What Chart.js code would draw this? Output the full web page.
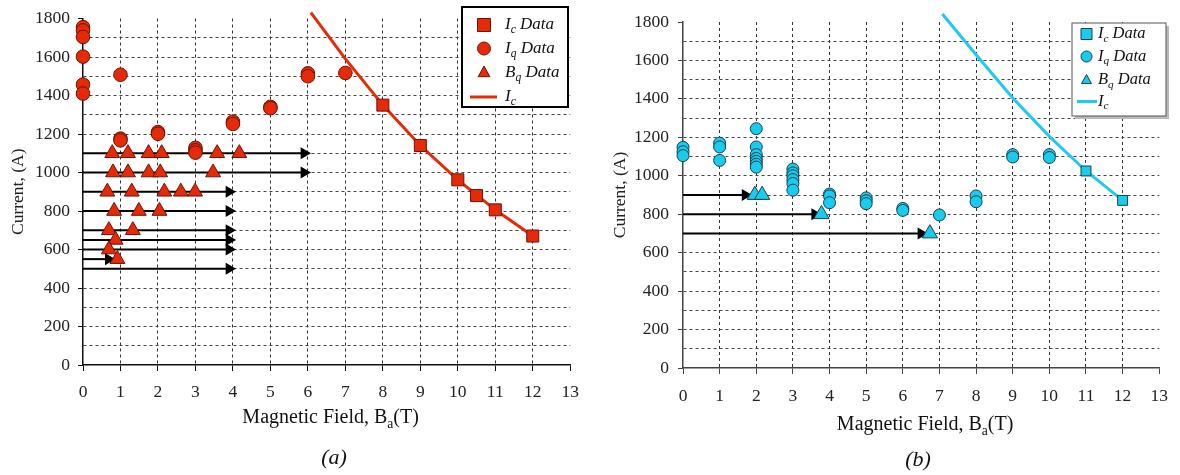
<!DOCTYPE html>
<html>
<head>
<meta charset="utf-8">
<script src="https://cdn.jsdelivr.net/npm/chart.js@4.4.1/dist/chart.umd.min.js"></script>
<style>
  body { margin: 0; background: #fff; }
  #wrap { position: relative; width: 1180px; height: 475px; }
  canvas { position: absolute; top: 0; }
  #chartA { left: 0; }
  #chartB { left: 590px; }
  .caption { position: absolute; font: italic 22px "Liberation Serif", serif; color: #111; width: 60px; text-align: center; }
</style>
</head>
<body>
<div id="wrap">
  <canvas id="chartA" width="590" height="475"></canvas>
  <canvas id="chartB" width="590" height="475"></canvas>
  <div class="caption" style="left:304px; top:444px;">(a)</div>
  <div class="caption" style="left:888px; top:446px;">(b)</div>
</div>
<script>
// ---- panel (a) data ----
const icAx = [8, 9, 10, 10.5, 11, 12];
const icAy = [1350, 1140, 962, 880, 806, 670];
const iqAx = [0, 0, 0, 0, 0, 0, 1, 1, 1, 2, 2, 3, 3, 3, 4, 4, 5, 5, 6, 6, 7];
const iqAy = [1755, 1738, 1704, 1602, 1457, 1410, 1508, 1176, 1167, 1210, 1201, 1128, 1115, 1103, 1264, 1252, 1341, 1334, 1515, 1500, 1517];
const bqAx = [0.78, 1.2, 1.75, 2.1, 3.58, 4.17, 0.8, 1.2, 1.75, 2.06, 3.47, 0.65, 1.3, 2.17, 2.61, 2.99, 0.83, 1.49, 2.04, 0.69, 1.33, 0.87, 0.69, 0.92];
const bqAy = [1100, 1100, 1100, 1100, 1100, 1100, 1000, 1000, 1000, 1000, 1000, 900, 900, 900, 900, 900, 800, 800, 800, 700, 700, 650, 600, 550];
const fitAx = [6.08, 7, 8, 9, 10, 11, 12];
const fitAy = [1830, 1590, 1350, 1140, 962, 806, 670];
const arrowAy = [1100, 1000, 900, 800, 700, 650, 600, 550, 500];
const arrowAend = [5.9, 5.9, 3.9, 3.9, 3.9, 3.9, 3.9, 0.68, 3.9];

// ---- panel (b) data ----
const icBx = [11, 12];
const icBy = [1025, 872];
const iqBx = [0, 0, 0, 1, 1, 1, 2, 2, 2, 2, 2, 2, 2, 3, 3, 3, 3, 3, 3, 4, 4, 4, 5, 5, 5, 6, 6, 7, 8, 8, 9, 9, 10, 10];
const iqBy = [1148, 1125, 1105, 1170, 1150, 1080, 1245, 1150, 1110, 1090, 1075, 1060, 1045, 1035, 1015, 1000, 980, 960, 925, 905, 895, 860, 885, 870, 855, 830, 820, 796, 895, 865, 1110, 1098, 1110, 1095];
const bqBx = [1.96, 2.16, 3.78, 6.74];
const bqBy = [900, 900, 800, 700];
const fitBx = [7.08, 8, 9, 10, 11, 12];
const fitBy = [1842, 1630, 1405, 1205, 1025, 872];
const arrowBy = [900, 800, 700];
const arrowBend = [1.7, 3.6, 6.5];

const xTicks = [0, 1, 2, 3, 4, 5, 6, 7, 8, 9, 10, 11, 12, 13];
const yTicks = [0, 200, 400, 600, 800, 1000, 1200, 1400, 1600, 1800];

const SERIF = '"Liberation Serif", "Times New Roman", serif';
const pts = (xs, ys) => xs.map((x, i) => ({ x: x, y: ys[i] }));

function drawMark(ctx, style, x, y, r, fill, stroke) {
  ctx.save();
  ctx.fillStyle = fill;
  ctx.strokeStyle = stroke;
  ctx.lineWidth = 1;
  ctx.beginPath();
  if (style === 'rect') {
    ctx.rect(x - r, y - r, 2 * r, 2 * r);
  } else if (style === 'circle') {
    ctx.arc(x, y, r, 0, Math.PI * 2);
  } else {
    ctx.moveTo(x, y - r);
    ctx.lineTo(x + r * 0.9, y + r * 0.65);
    ctx.lineTo(x - r * 0.9, y + r * 0.65);
    ctx.closePath();
  }
  ctx.fill();
  ctx.stroke();
  ctx.restore();
}

// text with subscripts, parts = [[text, isSub], ...]
function richText(ctx, parts, x, y, size, italic, center) {
  const fontFor = sub => (italic ? 'italic ' : '') + (sub ? size * 0.68 : size) + 'px ' + SERIF;
  let w = 0;
  parts.forEach(p => { ctx.font = fontFor(p[1]); w += ctx.measureText(p[0]).width; });
  let cx = center ? x - w / 2 : x;
  ctx.textBaseline = 'middle';
  ctx.textAlign = 'left';
  parts.forEach(p => {
    ctx.font = fontFor(p[1]);
    ctx.fillText(p[0], cx, y + (p[1] ? size * 0.3 : 0));
    cx += ctx.measureText(p[0]).width;
  });
}

const decorPlugin = {
  id: 'decor',
  afterDraw(chart, args, opts) {
    const ctx = chart.ctx;
    const area = chart.chartArea;
    ctx.save();
    ctx.fillStyle = '#111';
    richText(ctx, [['Magnetic Field, B', false], ['a', true], ['(T)', false]],
      (area.left + area.right) / 2 + 4, opts.titleY, 20, false, true);

    const lg = opts.legend;
    if (lg.shadow) {
      ctx.fillStyle = '#bbb';
      ctx.fillRect(lg.x + 3, lg.y + 3, lg.w, lg.h);
    }
    ctx.fillStyle = '#fff';
    ctx.fillRect(lg.x, lg.y, lg.w, lg.h);
    ctx.strokeStyle = lg.border;
    ctx.lineWidth = lg.borderWidth;
    ctx.strokeRect(lg.x, lg.y, lg.w, lg.h);
    chart.data.datasets.filter(d => d.legendText).forEach((d, i) => {
      const ry = lg.rows[i];
      if (d.showLine) {
        ctx.strokeStyle = d.borderColor;
        ctx.lineWidth = 3;
        ctx.beginPath();
        ctx.moveTo(lg.lineX1, ry);
        ctx.lineTo(lg.lineX2, ry);
        ctx.stroke();
      } else {
        drawMark(ctx, d.pointStyle, lg.symX, ry, lg.symR, d.backgroundColor, d.borderColor);
      }
      ctx.fillStyle = '#111';
      richText(ctx, d.legendText, lg.textX, ry, lg.size, true, false);
    });
    ctx.restore();
  }
};

function arrowSets(levels, ends) {
  return levels.map((lv, i) => ({
    type: 'line',
    data: [{ x: 0, y: lv }, { x: ends[i], y: lv }],
    borderColor: '#000',
    backgroundColor: '#000',
    borderWidth: 2,
    pointStyle: 'triangle',
    rotation: 90,
    pointRadius: [0, 5],
    pointHoverRadius: 0,
    clip: false,
    order: 5
  }));
}

function makeChart(id, cfg) {
  const tickFont = { family: SERIF, size: 17.5 };
  return new Chart(document.getElementById(id), {
    type: 'scatter',
    data: {
      datasets: [
        {
          legendText: [['I', false], ['c', true], [' Data', false]],
          data: pts(cfg.icX, cfg.icY), pointStyle: 'rect', pointRadius: cfg.rectR,
          backgroundColor: cfg.fill, borderColor: cfg.stroke, borderWidth: 1, clip: false, order: 1
        },
        {
          legendText: [['I', false], ['q', true], [' Data', false]],
          data: pts(cfg.iqX, cfg.iqY), pointStyle: 'circle', pointRadius: cfg.circR,
          backgroundColor: cfg.fill, borderColor: cfg.stroke, borderWidth: 1, clip: false, order: 2
        },
        {
          legendText: [['B', false], ['q', true], [' Data', false]],
          data: pts(cfg.bqX, cfg.bqY), pointStyle: 'triangle', pointRadius: cfg.triR,
          backgroundColor: cfg.fill, borderColor: cfg.stroke, borderWidth: 1, clip: false, order: 3
        },
        {
          legendText: [['I', false], ['c', true]],
          type: 'line', showLine: true, data: pts(cfg.fitX, cfg.fitY),
          borderColor: cfg.lineColor, borderWidth: 3, pointRadius: 0, clip: false, order: 4
        },
        ...arrowSets(cfg.arrowY, cfg.arrowEnd)
      ]
    },
    options: {
      responsive: false,
      animation: false,
      events: [],
      layout: { padding: { top: cfg.top, right: cfg.right, left: 0, bottom: 0 } },
      plugins: {
        legend: { display: false },
        tooltip: { enabled: false },
        decor: { titleY: cfg.titleY, legend: cfg.legend }
      },
      scales: {
        x: {
          type: 'linear', min: 0, max: 13,
          afterBuildTicks: s => { s.ticks = xTicks.map(v => ({ value: v })); },
          afterFit: s => { s.height = cfg.bottomH; },
          ticks: { font: tickFont, color: '#222', padding: cfg.xPad, autoSkip: false, maxRotation: 0 },
          grid: {
            color: c => (c.tick && (c.tick.value === 0 || c.tick.value === 13)) ? 'rgba(0,0,0,0)' : '#333',
            tickColor: cfg.axisColor, tickLength: 6, lineWidth: 1
          },
          border: { color: cfg.axisColor, width: 1.5, dash: [3, 3] }
        },
        y: {
          min: 0, max: 1800,
          afterBuildTicks: s => {
            const t = [];
            for (let v = 0; v <= 1800; v += 100) t.push({ value: v });
            s.ticks = t;
          },
          afterFit: s => { s.width = cfg.leftW; },
          ticks: {
            font: tickFont, color: '#222', padding: cfg.yPad, autoSkip: false,
            callback: v => yTicks.includes(v) ? String(v) : ''
          },
          grid: {
            color: c => (c.tick && (c.tick.value === 0 || c.tick.value === 1800)) ? 'rgba(0,0,0,0)' : '#444',
            tickColor: c => (c.tick && yTicks.includes(c.tick.value)) ? cfg.axisColor : 'rgba(0,0,0,0)',
            tickLength: 5, lineWidth: 1
          },
          border: { color: cfg.axisColor, width: 1.5, dash: [3, 3] },
          title: {
            display: true, text: 'Current, (A)', color: '#222',
            font: { family: SERIF, size: 17.5 }, padding: { top: cfg.yTitlePad, bottom: 0 }
          }
        }
      }
    },
    plugins: [decorPlugin]
  });
}

makeChart('chartA', {
  icX: icAx, icY: icAy, iqX: iqAx, iqY: iqAy, bqX: bqAx, bqY: bqAy,
  fitX: fitAx, fitY: fitAy, arrowY: arrowAy, arrowEnd: arrowAend,
  fill: '#e62a08', stroke: '#6a1406', lineColor: '#e62a08', axisColor: '#111',
  rectR: 8.5, circR: 6.8, triR: 8.6,
  top: 14, right: 16, leftW: 83, bottomH: 110, xPad: 11, yPad: 8, yTitlePad: 8, titleY: 418,
  legend: { x: 462, y: 7, w: 106, h: 100, border: '#000', borderWidth: 2, shadow: false,
    rows: [25, 48.5, 72.5, 97], symX: 484, symR: 6.5, textX: 505, lineX1: 470, lineX2: 497, size: 17 }
});

makeChart('chartB', {
  icX: icBx, icY: icBy, iqX: iqBx, iqY: iqBy, bqX: bqBx, bqY: bqBy,
  fitX: fitBx, fitY: fitBy, arrowY: arrowBy, arrowEnd: arrowBend,
  fill: '#18ccf0', stroke: '#1b3e4c', lineColor: '#22c8f0', axisColor: '#444',
  rectR: 7, circR: 6, triR: 8.8,
  top: 22, right: 15, leftW: 93, bottomH: 107, xPad: 12, yPad: 9, yTitlePad: 20, titleY: 425,
  legend: { x: 482, y: 23, w: 94, h: 93, border: '#555', borderWidth: 1, shadow: true,
    rows: [34, 56.5, 80, 101.5], symX: 496.5, symR: 5.5, textX: 508, lineX1: 487, lineX2: 507, size: 16.5 }
});
</script>
</body>
</html>
